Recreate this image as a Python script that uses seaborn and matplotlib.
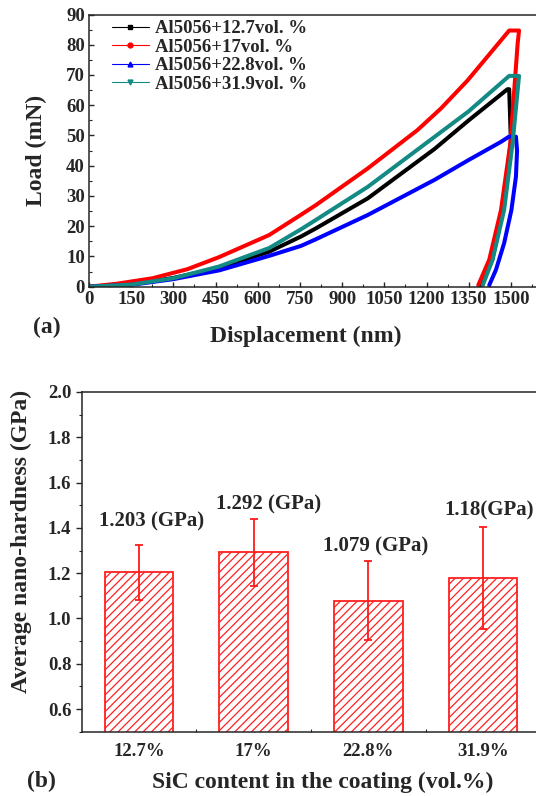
import matplotlib
matplotlib.use("Agg")
import matplotlib.pyplot as plt
import numpy as np
import pandas as pd
import seaborn as sns
from matplotlib.lines import Line2D
from matplotlib.ticker import MultipleLocator

# ---------------- data: (a) load-displacement curves ----------------
series_names = ["Al5056+12.7vol. %", "Al5056+17vol. %",
                "Al5056+22.8vol. %", "Al5056+31.9vol. %"]

disp_127 = [0, 150, 300, 463, 641, 754, 807, 991, 1228, 1350, 1488, 1494,
            1500, 1472, 1434, 1392]
load_127 = [0, 0.8, 2.9, 6.2, 11.6, 16.6, 19.3, 29.2, 45.5, 55.0, 65.3, 65.3,
            48.0, 26.0, 9.0, 0.4]

disp_17 = [0, 100, 226, 350, 463, 641, 754, 807, 991, 1168, 1251, 1346, 1494,
           1529, 1524, 1498, 1465, 1423, 1384]
load_17 = [0, 1.0, 2.8, 5.8, 9.8, 17.1, 23.8, 27.0, 39.1, 51.8, 58.9, 68.2, 84.7,
           84.7, 80.3, 47.4, 25.4, 8.9, 0.5]

disp_228 = [0, 150, 300, 463, 641, 754, 807, 991, 1228, 1350, 1465, 1493, 1518,
            1522, 1518, 1502, 1476, 1447, 1423]
load_228 = [0, 0.6, 2.5, 5.4, 10.2, 13.5, 15.7, 23.7, 35.3, 41.9, 47.9, 49.6, 49.6,
            45.0, 36.4, 25.4, 14.4, 5.6, 0.5]

disp_319 = [0, 150, 300, 463, 641, 754, 807, 991, 1228, 1350, 1494, 1529,
            1506, 1476, 1435, 1400]
load_319 = [0, 0.7, 2.8, 6.7, 12.8, 19.0, 22.1, 33.0, 49.5, 58.0, 69.7, 69.7,
            47.4, 25.4, 8.9, 0.5]

x_ticks_a = [0, 150, 300, 450, 600, 750, 900, 1050, 1200, 1350, 1500]
y_ticks_a = [0, 10, 20, 30, 40, 50, 60, 70, 80, 90]

# ---------------- data: (b) nano-hardness bars ----------------
categories = ["12.7%", "17%", "22.8%", "31.9%"]
hardness = [1.203, 1.292, 1.079, 1.18]
hardness_err = [0.123, 0.147, 0.175, 0.225]
hardness_labels = ["1.203 (GPa)", "1.292 (GPa)", "1.079 (GPa)", "1.18(GPa)"]
y_ticks_b = [0.6, 0.8, 1.0, 1.2, 1.4, 1.6, 1.8, 2.0]

# ---------------- styling ----------------
sns.set_style("ticks")
plt.rcParams["font.family"] = ["Liberation Serif", "DejaVu Serif"]
plt.rcParams["font.weight"] = "bold"
plt.rcParams["axes.labelweight"] = "bold"
plt.rcParams["font.size"] = 13.5
plt.rcParams["axes.linewidth"] = 1.1
plt.rcParams["hatch.linewidth"] = 0.9

W, H = 536, 796
fig = plt.figure(figsize=(W / 100, H / 100), dpi=100)

def px_axes(l, r, t, b):
    return [l / W, 1 - b / H, (r - l) / W, (b - t) / H]

colors = ["#000000", "#FF0000", "#0000FF", "#138A83"]
markers = ["s", "o", "^", "v"]

# ---------------- (a) ----------------
ax1 = fig.add_axes(px_axes(89, 539, 14.5, 286.7))
frames = []
for name, d, l in zip(series_names,
                      [disp_127, disp_17, disp_228, disp_319],
                      [load_127, load_17, load_228, load_319]):
    frames.append(pd.DataFrame({"disp": d, "load": l, "series": name}))
df = pd.concat(frames, ignore_index=True)
sns.lineplot(data=df, x="disp", y="load", hue="series", hue_order=series_names,
             palette=colors, sort=False, estimator=None, legend=False,
             linewidth=2.9, ax=ax1)
ax1.set_xlim(0, 1600)
ax1.set_ylim(0, 90)
ax1.set_xticks(x_ticks_a)
ax1.set_yticks(y_ticks_a)
ax1.xaxis.set_minor_locator(MultipleLocator(75))
ax1.yaxis.set_minor_locator(MultipleLocator(5))
ax1.tick_params(which="major", direction="in", length=3.5, width=1, pad=3)
ax1.tick_params(which="minor", direction="in", length=2, width=0.8)
ax1.spines["right"].set_visible(False)
ax1.set_xlabel("Displacement (nm)", fontsize=17)
ax1.set_ylabel("Load (mN)", fontsize=17)
ax1.xaxis.set_label_coords((306 - 89) / 450, (286.7 - 336) / 272.2)
ax1.xaxis.label.set_va("center")
ax1.yaxis.set_label_coords((36 - 89) / 450, 0.5)
ax1.yaxis.label.set_va("center")

handles = [Line2D([], [], color=c, marker=m, markersize=3.5, linewidth=0.8)
           for c, m in zip(colors, markers)]
ax1.legend(handles, series_names, loc="upper left",
           bbox_to_anchor=(111.7 / W, 1 - 20 / H), bbox_transform=fig.transFigure,
           frameon=False, borderpad=0, borderaxespad=0, handlelength=2.0,
           handletextpad=0.3, labelspacing=0.08,
           prop={"size": 13.5, "weight": "bold"})

fig.text(46.5 / W, 1 - 327 / H, "(a)", fontsize=17, fontweight="bold",
         ha="center", va="center")

# ---------------- (b) ----------------
ax2 = fig.add_axes(px_axes(81.7, 540.3, 392, 731.7))
sns.barplot(x=categories, y=hardness, color="white", width=0.6, saturation=1,
            edgecolor="#FF2020", linewidth=1.3, ax=ax2)
for p in ax2.patches:
    p.set_hatch("////")
    p.set_edgecolor("#FF2020")
    p.set_facecolor("white")
xpos = np.arange(len(categories))
ax2.errorbar(xpos, hardness, yerr=hardness_err, fmt="none", ecolor="#FF1A1A",
             elinewidth=1.3, capsize=3, capthick=1.3, zorder=5)

label_dx = [0.105, 0.133, 0.06, 0.05]
label_y = [1.427, 1.505, 1.317, 1.479]
for i, txt in enumerate(hardness_labels):
    ax2.text(xpos[i] + label_dx[i], label_y[i], txt, fontsize=15,
             fontweight="bold", ha="center", va="center")

ax2.set_xlim(-0.5, 3.5)
ax2.set_ylim(0.5, 2.0)
ax2.set_yticks(y_ticks_b)
ax2.yaxis.set_minor_locator(MultipleLocator(0.1))
ax2.set_xticks(xpos)
ax2.set_xticks(xpos[:-1] + 0.5, minor=True)
ax2.set_xticklabels(categories)
ax2.tick_params(axis="y", which="major", direction="out", length=4, width=1)
ax2.tick_params(axis="y", which="minor", direction="out", length=2.5, width=0.8)
ax2.tick_params(axis="x", which="major", direction="in", length=3.5, width=1, pad=8)
ax2.tick_params(axis="x", which="minor", direction="in", length=2, width=0.8)
ax2.spines["right"].set_visible(False)
ax2.set_xlabel("SiC content in the coating (vol.%)", fontsize=17)
ax2.set_ylabel("Average nano-hardness (GPa)", fontsize=17)
ax2.xaxis.set_label_coords((322.5 - 81.7) / 458.6, (731.7 - 782) / 339.7)
ax2.xaxis.label.set_va("center")
ax2.yaxis.set_label_coords((21 - 81.7) / 458.6, 0.56)
ax2.yaxis.label.set_va("center")

fig.text(41 / W, 1 - 781 / H, "(b)", fontsize=17, fontweight="bold",
         ha="center", va="center")

fig.savefig("out.png", dpi=100)
